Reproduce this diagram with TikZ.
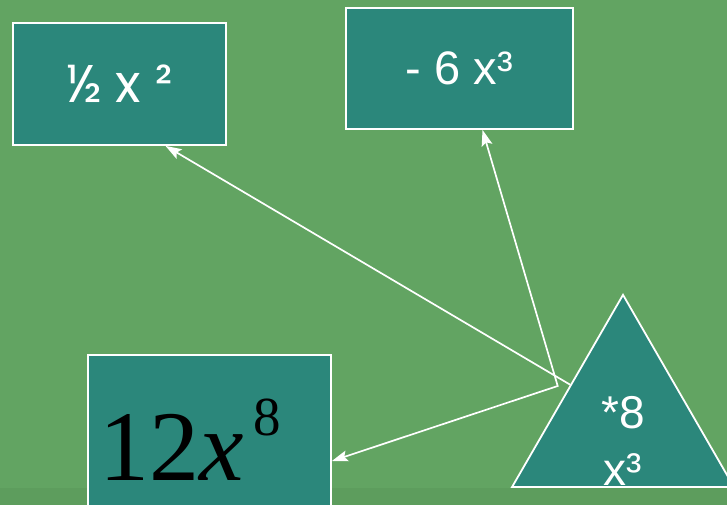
\documentclass[tikz,border=0pt]{standalone}
\usepackage{fontspec}
\usepackage{tikz}
\usetikzlibrary{positioning}
\usetikzlibrary{calc}
\usetikzlibrary{arrows.meta}
\usetikzlibrary{shapes.geometric}
\newfontfamily\gothicfont{Poppins}
\newfontfamily\arialfont{Liberation Sans}
\newfontfamily\timesfont{Liberation Serif}
\definecolor{slidegreen}{HTML}{62A462}
\definecolor{slideband}{HTML}{5D9D5D}
\definecolor{boxteal}{HTML}{2B877B}
\tikzset{
  termbox/.style={draw=white,line width=1.8pt,fill=boxteal,inner sep=0pt,text=white},
  link/.style={draw=white,line width=1.7pt}
}

\begin{document}
\begin{tikzpicture}[x=1pt,y=-1pt]
\useasboundingbox (0,0) rectangle (727,505);
\fill[slidegreen] (0,0) rectangle (727,505);
\fill[slideband] (0,488) rectangle (727,505);
\node[termbox,minimum width=213pt,minimum height=122pt,font=\gothicfont\fontsize{53}{53}\selectfont] (half) at (119.5,84) {½ x ²};
\node[termbox,minimum width=227pt,minimum height=121pt,font=\arialfont\fontsize{47}{47}\selectfont] (six) at (459.5,68.5) {- 6 x³};
\node[termbox,minimum width=243pt,minimum height=170pt] (twelve) at (209.5,440) {};
\node[anchor=base west,inner sep=0pt,font=\timesfont\fontsize{100}{100}\selectfont] (twelvetext) at (99,480) {12\textit{x}\hspace{10pt}\raisebox{45pt}{\fontsize{55}{55}\selectfont 8}};
\node[termbox,regular polygon,regular polygon sides=3,minimum size=256.3pt] (mult) at (623,423) {};
\node[anchor=base,align=center,text=white,font=\arialfont\fontsize{46}{57}\selectfont] (multtext) at (623,485) {*8\\x³};
\coordinate (bend) at (557.7,386);
\draw[link,-{Stealth[length=16pt,width=11pt,inset=3pt]}] ($(mult.corner 2)!0.53!(mult.corner 1)$) -- ([xshift=46pt]half.south);
\draw[link,{Stealth[length=16pt,width=11pt,inset=3pt]}-{Stealth[length=16pt,width=11pt,inset=3pt]}] ([xshift=23pt]six.south) -- (bend) -- ([yshift=-21pt]twelve.east);
\end{tikzpicture}
\end{document}
